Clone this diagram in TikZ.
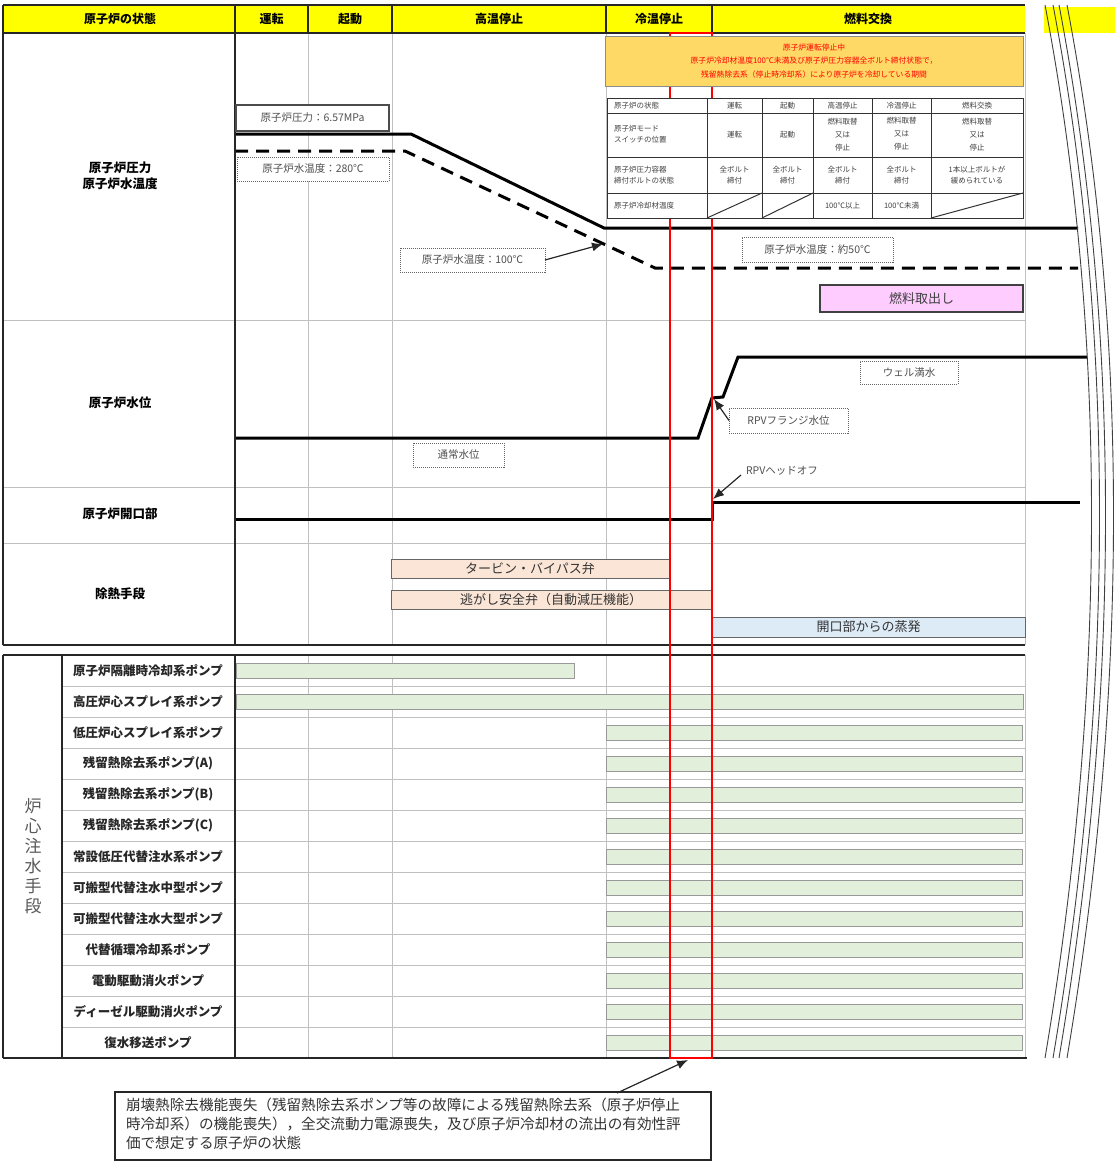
\documentclass[tikz,border=0pt]{standalone}
\usepackage{fontspec}
\setmainfont{Noto Sans CJK JP}
\usetikzlibrary{arrows.meta}
\definecolor{hdr}{HTML}{FFFF00}
\definecolor{orng}{HTML}{FFD966}
\definecolor{peach}{HTML}{FBE5D6}
\definecolor{lblue}{HTML}{DDEBF7}
\definecolor{lgreen}{HTML}{E2EFDA}
\definecolor{pinkf}{HTML}{FFCCFF}
\definecolor{gridg}{HTML}{C0C0C0}
\definecolor{txtg}{HTML}{505050}
\begin{document}
\begin{tikzpicture}[x=1pt,y=-1pt,
  every node/.style={inner sep=0pt, outer sep=0pt},
  hdrtxt/.style={font=\fontsize{12}{14}\selectfont\bfseries},
  sectlbl/.style={font=\fontsize{12.5}{16}\selectfont\bfseries, align=center},
  pumplbl/.style={font=\fontsize{12.5}{14}\selectfont\bfseries, text=black!85},
  gridline/.style={draw=gridg, line width=0.8},
  frame/.style={draw=black!85, line width=2.2},
  curve/.style={line width=3, black},
  dottedbox/.style={draw=black!60, densely dotted, line width=1, fill=white, text=txtg, font=\fontsize{10.5}{12}\selectfont},
  solidbox/.style={draw=black!70, line width=1.2, fill=white, text=txtg, font=\fontsize{10.5}{12}\selectfont},
  barbox/.style={draw=black!60, line width=0.9, font=\fontsize{13}{15}\selectfont, text=black!80},
  pumpbar/.style={draw=black!40, fill=lgreen, line width=0.8},
  tblline/.style={draw=black!80, line width=1},
  tbltxt/.style={font=\fontsize{7.5}{11}\selectfont, text=black!75, align=center},
  callout/.style={-{Latex[length=11pt,width=9pt]}, line width=1.2, black!85},
  breakline/.style={draw=black!75, line width=0.9},
]
\useasboundingbox (0,0) rectangle (1115,1164);

% ---------- header ----------
\fill[hdr] (3,5) rectangle (1025,33);
\fill[hdr] (1044,7) rectangle (1115,33);

% ---------- grid ----------
\foreach \x in {308,392,606,712,1025} {
  \draw[gridline] (\x,33) -- (\x,645);
  \draw[gridline] (\x,655) -- (\x,1058);
}
\foreach \y in {320,487,543} \draw[gridline] (3,\y) -- (1025,\y);
\foreach \i in {1,...,12} \draw[gridline] (62,{655+31*\i}) -- (1025,{655+31*\i});

% ---------- heat removal bars ----------
\node[barbox, fill=peach, minimum width=278, minimum height=19, anchor=north west] (tbv) at (391,559) {タービン・バイパス弁};
\node[barbox, fill=peach, minimum width=320, minimum height=19, anchor=north west] (srv) at (391,590) {逃がし安全弁（自動減圧機能）};
\node[barbox, fill=lblue, minimum width=313, minimum height=20, anchor=north west] (evap) at (712,617) {開口部からの蒸発};

% ---------- pump bars ----------
\draw[pumpbar] (236,663) rectangle (574,678);
\draw[pumpbar] (236,694) rectangle (1023,709);
\foreach \i in {2,...,12} \draw[pumpbar] (606,{663+31*\i}) rectangle (1022,{678+31*\i});

% ---------- chart curves ----------
\draw[curve] (235,134) -- (411,134) -- (604,228) -- (1078,228);
\draw[curve, dash pattern=on 13pt off 8pt] (235,151) -- (405,151) -- (655,268) -- (1078,268);
\draw[curve] (235,438) -- (698,438) -- (712,398) -- (723,397) -- (738,357) -- (1087,357);
\draw[curve] (235,519) -- (712,519) -- (712,502) -- (1080,502);

% ---------- frame ----------
\draw[frame] (3,5) -- (1025,5);
\draw[frame] (3,33) -- (1025,33);
\foreach \x in {235,308,392,606,712} \draw[frame, line width=1.6] (\x,5) -- (\x,33);
\draw[frame] (3,5) -- (3,645);
\draw[frame] (235,33) -- (235,645);
\draw[frame] (3,645) -- (1025,645);
\draw[frame] (3,655) -- (1025,655);
\draw[frame] (3,655) -- (3,1058);
\draw[frame] (62,655) -- (62,1058);
\draw[frame] (235,655) -- (235,1058);
\draw[frame] (3,1058) -- (1027,1058);

% ---------- red frame ----------
\draw[red, line width=1.6] (670,33) rectangle (712,1058);

% ---------- orange note ----------
\node[draw=black!45, line width=0.8, fill=orng, minimum width=418, minimum height=50, anchor=north west] (period) at (605,36) {};
\node[font=\fontsize{7.8}{13.5}\selectfont, text=red, align=center] (periodtxt) at (period.center) {原子炉運転停止中\\原子炉冷却材温度100℃未満及び原子炉圧力容器全ボルト締付状態で，\\残留熱除去系（停止時冷却系）により原子炉を冷却している期間};

% ---------- inset table ----------
\fill[white] (607,98) rectangle (1023,218);
\draw[tblline] (607,98) rectangle (1023,218);
\foreach \x in {707,762,813,872,931} \draw[tblline] (\x,98) -- (\x,218);
\foreach \y in {113,157,193} \draw[tblline] (607,\y) -- (1023,\y);
\draw[tblline] (707,218) -- (762,193);
\draw[tblline] (762,218) -- (813,193);
\draw[tblline] (931,218) -- (1023,193);
\node[tbltxt, anchor=west, align=left] (ta0) at (614,105.5) {原子炉の状態};
\node[tbltxt] (ta1) at (734.5,105.5) {運転};
\node[tbltxt] (ta2) at (787.5,105.5) {起動};
\node[tbltxt] (ta3) at (842.5,105.5) {高温停止};
\node[tbltxt] (ta4) at (901.5,105.5) {冷温停止};
\node[tbltxt] (ta5) at (977,105.5) {燃料交換};
\node[tbltxt, anchor=west, align=left] (tb0) at (614,134) {原子炉モード\\スイッチの位置};
\node[tbltxt] (tb1) at (734.5,135) {運転};
\node[tbltxt] (tb2) at (787.5,135) {起動};
\node[tbltxt, font=\fontsize{7.5}{13}\selectfont] (tb3) at (842.5,135) {燃料取替\\又は\\停止};
\node[tbltxt, font=\fontsize{7.5}{13}\selectfont] (tb4) at (901.5,134) {燃料取替\\又は\\停止};
\node[tbltxt, font=\fontsize{7.5}{13}\selectfont] (tb5) at (977,135) {燃料取替\\又は\\停止};
\node[tbltxt, anchor=west, align=left] (tc0) at (614,175) {原子炉圧力容器\\締付ボルトの状態};
\node[tbltxt] (tc1) at (734.5,175) {全ボルト\\締付};
\node[tbltxt] (tc2) at (787.5,175) {全ボルト\\締付};
\node[tbltxt] (tc3) at (842.5,175) {全ボルト\\締付};
\node[tbltxt] (tc4) at (901.5,175) {全ボルト\\締付};
\node[tbltxt] (tc5) at (977,175) {1本以上ボルトが\\緩められている};
\node[tbltxt, anchor=west] (td0) at (614,206) {原子炉冷却材温度};
\node[tbltxt] (td3) at (842.5,205.5) {100℃以上};
\node[tbltxt] (td4) at (901.5,205.5) {100℃未満};

% ---------- annotation boxes ----------
\node[solidbox, minimum width=153, minimum height=26] (npress) at (312.5,118) {原子炉圧力：6.57MPa};
\node[dottedbox, minimum width=152, minimum height=24] (n280) at (313,169) {原子炉水温度：280℃};
\node[dottedbox, minimum width=145, minimum height=24] (n100) at (472.5,260) {原子炉水温度：100℃};
\node[dottedbox, minimum width=151, minimum height=25] (n50) at (817.5,249.5) {原子炉水温度：約50℃};
\node[draw=black!75, line width=1.2, fill=pinkf, minimum width=203, minimum height=27, font=\fontsize{13}{15}\selectfont, text=black!75] (fuel) at (921.5,298.5) {燃料取出し};
\node[dottedbox, minimum width=98, minimum height=23] (nwell) at (909,372.5) {ウェル満水};
\node[dottedbox, minimum width=119, minimum height=25] (nflange) at (788.5,420.5) {RPVフランジ水位};
\node[dottedbox, minimum width=91, minimum height=24] (nnormal) at (458.5,455) {通常水位};
\node[text=txtg, font=\fontsize{10.5}{12}\selectfont, anchor=west] (nhead) at (746,471) {RPVヘッドオフ};

\coordinate (t100) at (603,244);
\coordinate (tflange) at (714,399);
\coordinate (hstart) at (741,475);
\coordinate (thead) at (713,499);
\draw[callout] (n100.east) -- (t100);
\draw[callout] (nflange.west) -- (tflange);
\draw[callout] (hstart) -- (thead);

% ---------- header texts ----------
\node[hdrtxt] (h0) at (120,19) {原子炉の状態};
\node[hdrtxt] (h1) at (271.5,19) {運転};
\node[hdrtxt] (h2) at (350,19) {起動};
\node[hdrtxt] (h3) at (499,19) {高温停止};
\node[hdrtxt] (h4) at (659,19) {冷温停止};
\node[hdrtxt] (h5) at (868,19) {燃料交換};

% ---------- section labels ----------
\node[sectlbl] (s1) at (120,176) {原子炉圧力\\原子炉水温度};
\node[sectlbl] (s2) at (120,403) {原子炉水位};
\node[sectlbl] (s3) at (120,514) {原子炉開口部};
\node[sectlbl] (s4) at (120,594) {除熱手段};
\node[font=\fontsize{17}{20}\selectfont, text=black!65, align=center] (s5) at (33,856) {炉\\心\\注\\水\\手\\段};

\foreach \i/\t in {0/原子炉隔離時冷却系ポンプ,1/高圧炉心スプレイ系ポンプ,2/低圧炉心スプレイ系ポンプ,3/残留熱除去系ポンプ(A),4/残留熱除去系ポンプ(B),5/残留熱除去系ポンプ(C),6/常設低圧代替注水系ポンプ,7/可搬型代替注水中型ポンプ,8/可搬型代替注水大型ポンプ,9/代替循環冷却系ポンプ,10/電動駆動消火ポンプ,11/ディーゼル駆動消火ポンプ,12/復水移送ポンプ}
  \node[pumplbl] (pump\i) at (148,{670.5+31*\i}) {\t};

% ---------- break marks ----------
\foreach \d in {0,8,14,22}
  \draw[breakline] ({1045+\d},5) .. controls ({1107+\d},330) and ({1107+\d},690) .. ({1045+\d},1058);

% ---------- bottom note ----------
\node[draw=black!85, line width=1.3, fill=white, minimum width=596, minimum height=68, anchor=north west] (concl) at (115,1092) {};
\node[font=\fontsize{14.6}{19}\selectfont, text=black!80, align=left, anchor=north west] (concltxt) at (126,1098) {崩壊熱除去機能喪失（残留熱除去系ポンプ等の故障による残留熱除去系（原子炉停止\\時冷却系）の機能喪失），全交流動力電源喪失，及び原子炉冷却材の流出の有効性評\\価で想定する原子炉の状態};
\coordinate (cstart) at (617,1093);
\coordinate (redbot) at (688,1060);
\draw[callout] (cstart) -- (redbot);
\end{tikzpicture}
\end{document}
